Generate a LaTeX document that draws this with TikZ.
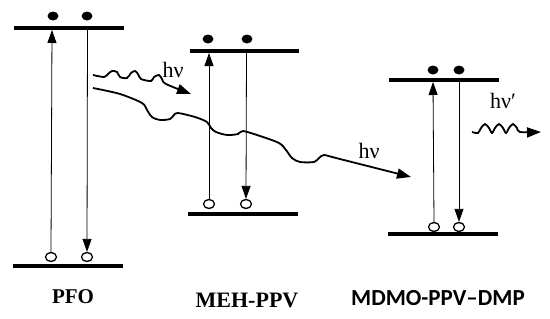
\documentclass[tikz,border=0pt]{standalone}
\usepackage{fontspec}
\setmainfont{Liberation Serif}
\newfontfamily\carlito{Carlito}
\usetikzlibrary{arrows.meta,shapes.geometric}
\begin{document}
\begin{tikzpicture}[x=1pt,y=-1pt,
  level/.style={line width=4pt},
  trans/.style={line width=0.8pt,-{Triangle[length=13pt,width=9pt]}},
  wave/.style={line width=1.8pt,-{Triangle[length=14pt,width=10pt]}},
  elec/.style={ellipse,fill=black,minimum width=11pt,minimum height=9pt,inner sep=0pt},
  hole/.style={ellipse,draw,line width=1.3pt,fill=white,minimum width=11pt,minimum height=9pt,inner sep=0pt},
  hv/.style={font=\fontsize{22}{24}\selectfont},
  lab/.style={anchor=base}]
\useasboundingbox (0,0) rectangle (550,319);
% PFO
\coordinate (pfoT1) at (14,28); \coordinate (pfoT2) at (124,28);
\coordinate (pfoB1) at (13,266); \coordinate (pfoB2) at (123,266);
\draw[level] (pfoT1) -- (pfoT2);
\draw[level] (pfoB1) -- (pfoB2);
\node[elec] (pfoE1) at (53,16) {};
\node[elec] (pfoE2) at (87,16) {};
\node[hole] (pfoH1) at (51,257) {};
\node[hole] (pfoH2) at (87,257) {};
\coordinate (pfoUp) at (52,30);
\coordinate (pfoDn) at (87.5,30);
\draw[trans] (pfoH1.north) -- (pfoUp);
\draw[trans] (pfoDn) -- (pfoH2.north);
% MEH-PPV
\coordinate (mehT1) at (190,51); \coordinate (mehT2) at (299,51);
\coordinate (mehB1) at (188,214); \coordinate (mehB2) at (298,214);
\draw[level] (mehT1) -- (mehT2);
\draw[level] (mehB1) -- (mehB2);
\node[elec] (mehE1) at (208,39) {};
\node[elec] (mehE2) at (247,39) {};
\node[hole] (mehH1) at (209,204) {};
\node[hole] (mehH2) at (246,204) {};
\coordinate (mehUp) at (209,53);
\coordinate (mehDn) at (246.5,53);
\draw[trans] (mehH1.north) -- (mehUp);
\draw[trans] (mehDn) -- (mehH2.north);
% MDMO-PPV-DMP
\coordinate (mdT1) at (389,80); \coordinate (mdT2) at (499,80);
\coordinate (mdB1) at (388,234); \coordinate (mdB2) at (498,234);
\draw[level] (mdT1) -- (mdT2);
\draw[level] (mdB1) -- (mdB2);
\node[elec] (mdE1) at (433,70) {};
\node[elec] (mdE2) at (459,70) {};
\node[hole] (mdH1) at (434,227) {};
\node[hole] (mdH2) at (459,227) {};
\coordinate (mdUp) at (433,82);
\coordinate (mdDn) at (459,82);
\draw[trans] (mdH1.north) -- (mdUp);
\draw[trans] (mdDn) -- (mdH2.north);
% emission PFO -> MEH
\coordinate (w1s) at (93,75);
\coordinate (w1e) at (191,94);
\draw[wave] plot[smooth,tension=0.5] coordinates {(w1s) (104,77) (108,74) (112,71) (117,72) (120,77) (127,78) (131,73) (135,71) (138,74) (141,79) (151,81) (154,77) (159,75) (162,79) (166,84) (w1e)};
\node[hv] (hv1) at (173,70) {hν};
% long transfer
\coordinate (w2s) at (93,88);
\coordinate (w2e) at (411,177);
\draw[wave] plot[smooth,tension=0.5] coordinates {(w2s) (120,94) (142,103) (147,110) (152,117) (160,120) (170,119) (174,115) (178,113) (195,117) (207,122) (211,128) (216,132) (227,135) (238,134) (243,131) (260,136) (279,143) (286,150) (292,158) (300,162) (314,162) (319,158) (324,155) (336,158) (w2e)};
\node[hv] (hv2) at (369,151) {hν};
% emission MDMO
\coordinate (w3s) at (472,132);
\coordinate (w3e) at (541,132);
\draw[wave] plot[smooth,tension=0.5] coordinates {(w3s) (478,133) (481,128) (485,124) (489,128) (492,133) (495,128) (499,124) (503,128) (506,133) (509,128) (513,124) (517,128) (520,132) (w3e)};
\node[hv] (hv3) at (503,101) {hν′};
% labels
\node[lab,font=\fontsize{21}{23}\selectfont\bfseries] (lPFO) at (73,303) {PFO};
\node[lab,font=\fontsize{22}{24}\selectfont\bfseries] (lMEH) at (247,307) {MEH-PPV};
\node[lab,font=\fontsize{23}{25}\selectfont\carlito\bfseries] (lMD) at (438,305) {MDMO-PPV–DMP};
\end{tikzpicture}
\end{document}
